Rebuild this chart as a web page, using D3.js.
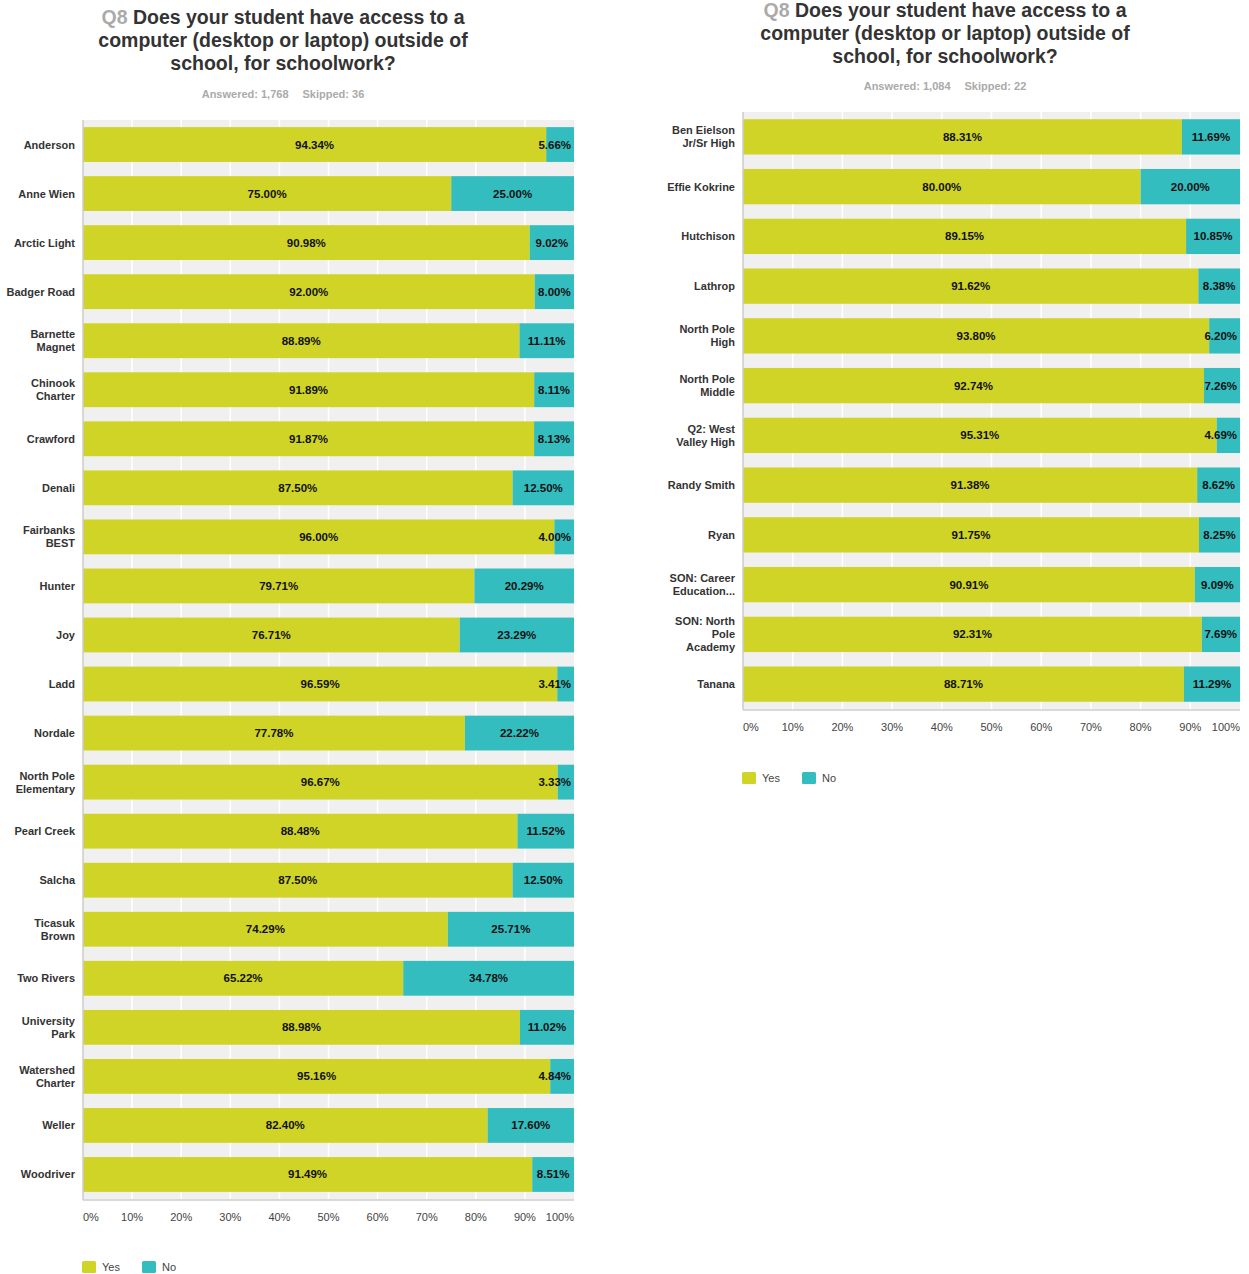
<!DOCTYPE html>
<html><head><meta charset="utf-8">
<script src="https://cdn.jsdelivr.net/npm/d3@7"></script>
<style>body{margin:0;background:#fff;font-family:"Liberation Sans",Arial,sans-serif;}</style>
</head><body><svg id="c" width="1249" height="1274"></svg>
<script>
const seriesNames = ["Yes", "No"];
const seriesColors = ["#cfd427", "#33bdbf"];
const xTicks = [0,10,20,30,40,50,60,70,80,90,100];

const leftCategories = ["Anderson","Anne Wien","Arctic Light","Badger Road","Barnette\nMagnet","Chinook\nCharter","Crawford","Denali","Fairbanks\nBEST","Hunter","Joy","Ladd","Nordale","North Pole\nElementary","Pearl Creek","Salcha","Ticasuk\nBrown","Two Rivers","University\nPark","Watershed\nCharter","Weller","Woodriver"];
const leftYes = [94.34,75.00,90.98,92.00,88.89,91.89,91.87,87.50,96.00,79.71,76.71,96.59,77.78,96.67,88.48,87.50,74.29,65.22,88.98,95.16,82.40,91.49];
const leftNo  = [5.66,25.00,9.02,8.00,11.11,8.11,8.13,12.50,4.00,20.29,23.29,3.41,22.22,3.33,11.52,12.50,25.71,34.78,11.02,4.84,17.60,8.51];

const rightCategories = ["Ben Eielson\nJr/Sr High","Effie Kokrine","Hutchison","Lathrop","North Pole\nHigh","North Pole\nMiddle","Q2: West\nValley High","Randy Smith","Ryan","SON: Career\nEducation...","SON: North\nPole\nAcademy","Tanana"];
const rightYes = [88.31,80.00,89.15,91.62,93.80,92.74,95.31,91.38,91.75,90.91,92.31,88.71];
const rightNo  = [11.69,20.00,10.85,8.38,6.20,7.26,4.69,8.62,8.25,9.09,7.69,11.29];

const titleQ = "Q8";
const titleLines = ["Does your student have access to a","computer (desktop or laptop) outside of","school, for schoolwork?"];
const leftAnswered = "Answered: 1,768", leftSkipped = "Skipped: 36";
const rightAnswered = "Answered: 1,084", rightSkipped = "Skipped: 22";

const svg = d3.select("#c");

function drawChart(cfg){
  const g = svg.append("g");
  cfg.titleY.forEach((y,i)=>{
    const t = g.append("text").attr("x",cfg.cx).attr("y",y).attr("text-anchor","middle")
      .attr("font-size",19.5).attr("font-weight","bold").attr("fill","#333");
    if(i===0){ t.append("tspan").attr("fill","#aaa").text(titleQ+" "); }
    t.append("tspan").text(titleLines[i]);
  });
  const sub = g.append("text").attr("x",cfg.cx).attr("y",cfg.subY).attr("text-anchor","middle")
    .attr("font-size",11).attr("font-weight","bold").attr("fill","#aaa");
  sub.append("tspan").text(cfg.answered);
  sub.append("tspan").attr("dx",14).text(cfg.skipped);

  const x = d3.scaleLinear().domain([0,100]).range([cfg.x0,cfg.x1]);
  const y = d3.scaleBand().domain(cfg.cats).range([cfg.y0,cfg.y1]).paddingInner(0.29).paddingOuter(0.145);

  g.append("rect").attr("x",cfg.x0).attr("y",cfg.y0).attr("width",cfg.x1-cfg.x0).attr("height",cfg.y1-cfg.y0).attr("fill","#f0f0f0");
  g.selectAll(".grid").data(xTicks.slice(1,-1)).join("line")
    .attr("x1",d=>x(d)).attr("x2",d=>x(d)).attr("y1",cfg.y0).attr("y2",cfg.y1)
    .attr("stroke","#fff").attr("stroke-width",1.5);

  const rows = cfg.cats.map((c,i)=>({c, yes:cfg.yes[i], no:cfg.no[i]}));
  const stack = d3.stack().keys(["yes","no"])(rows);
  stack.forEach((layer,li)=>{
    g.selectAll(null).data(layer).join("rect")
      .attr("x",d=>x(d[0])).attr("width",d=>x(d[1])-x(d[0]))
      .attr("y",d=>y(d.data.c)).attr("height",y.bandwidth())
      .attr("fill",seriesColors[li]);
    g.selectAll(null).data(layer).join("text")
      .attr("font-size",11.5).attr("font-weight","bold").attr("fill","#111")
      .attr("text-anchor","middle")
      .attr("y",d=>y(d.data.c)+y.bandwidth()/2+4)
      .text(d=>(d[1]-d[0]).toFixed(2)+"%")
      .attr("x",function(d){
        const a=x(d[0]), b=x(d[1]); let c=(a+b)/2;
        const hw=this.getComputedTextLength()/2;
        if(b-a < 2*hw+6) c = b - hw - 3;
        return c;
      });
  });

  g.append("line").attr("x1",cfg.x0).attr("x2",cfg.x0).attr("y1",cfg.y0).attr("y2",cfg.y1+1).attr("stroke","#ccc").attr("stroke-width",1.5);
  g.append("line").attr("x1",cfg.x0).attr("x2",cfg.x1).attr("y1",cfg.y1+1).attr("y2",cfg.y1+1).attr("stroke","#ccc").attr("stroke-width",1.5);

  cfg.cats.forEach(c=>{
    const lines=c.split("\n");
    const cy=y(c)+y.bandwidth()/2;
    const lh=13;
    const t=g.append("text").attr("text-anchor","end").attr("font-size",11).attr("font-weight","bold").attr("fill","#333");
    lines.forEach((l,i)=>{
      t.append("tspan").attr("x",cfg.x0-8).attr("y",cy+4+(i-(lines.length-1)/2)*lh).text(l);
    });
  });

  g.selectAll(".tick").data(xTicks).join("text")
    .attr("x",d=> d===0?cfg.x0 : d===100?cfg.x1 : x(d))
    .attr("text-anchor",d=> d===0?"start": d===100?"end":"middle")
    .attr("y",cfg.y1+22).attr("font-size",11).attr("fill","#444")
    .text(d=>d+"%");

  seriesNames.forEach((n,i)=>{
    const lx = cfg.x0 - 1 + i*60;
    g.append("rect").attr("x",lx).attr("y",cfg.legY-6).attr("width",14).attr("height",12).attr("rx",1.5).attr("fill",seriesColors[i]);
    g.append("text").attr("x",lx+20).attr("y",cfg.legY+4).attr("font-size",11).attr("fill","#444").text(n);
  });
}

drawChart({cats:leftCategories, yes:leftYes, no:leftNo, cx:283, titleY:[24,47,70], subY:98,
  answered:leftAnswered, skipped:leftSkipped, x0:83, x1:574, y0:120, y1:1199, legY:1267});
drawChart({cats:rightCategories, yes:rightYes, no:rightNo, cx:945, titleY:[17,40,63], subY:90,
  answered:rightAnswered, skipped:rightSkipped, x0:743, x1:1240, y0:112, y1:709, legY:778});
</script></body></html>
